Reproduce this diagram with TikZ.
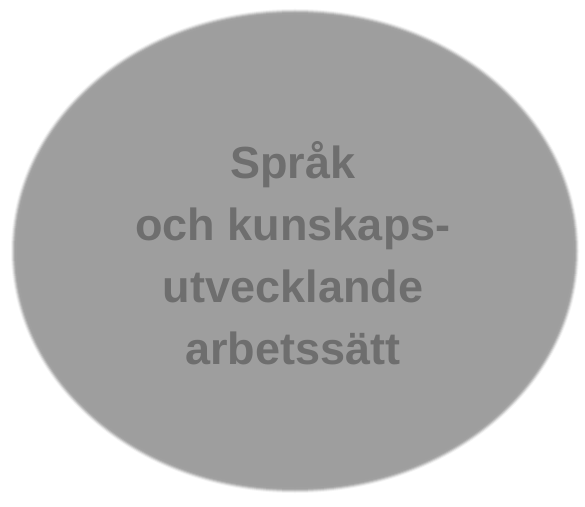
\documentclass[tikz,border=0pt]{standalone}
\usepackage{fontspec}
\setmainfont{Liberation Sans}
\usetikzlibrary{shapes.geometric}
\definecolor{discgray}{HTML}{9E9E9E}
\definecolor{textgray}{HTML}{6E6E6E}
\tikzset{
  disc/.style={ellipse, fill=discgray, draw=none, minimum width=560pt, minimum height=476pt, inner sep=0pt},
  halo/.style={ellipse, fill=discgray, draw=none, inner sep=0pt},
  label/.style={align=center, text=textgray, font=\fontsize{45}{62}\selectfont\bfseries}
}
\begin{document}
\begin{tikzpicture}[x=1pt,y=1pt]
\useasboundingbox (0,0) rectangle (585,506);
\fill[white] (0,0) rectangle (585,506);
\foreach \d/\o in {8/0.12,6/0.25,4/0.4,2/0.6,0/0.85}{
  \node[halo, fill opacity=\o, minimum width={560pt+\d pt}, minimum height={476pt+\d pt}] at (295,255) {};
}
\node[disc, minimum width=556pt, minimum height=472pt] (d) at (295,255) {};
\node[label] (t) at (293,253) {Språk\\och kunskaps-\\utvecklande\\arbetssätt};
\end{tikzpicture}
\end{document}
